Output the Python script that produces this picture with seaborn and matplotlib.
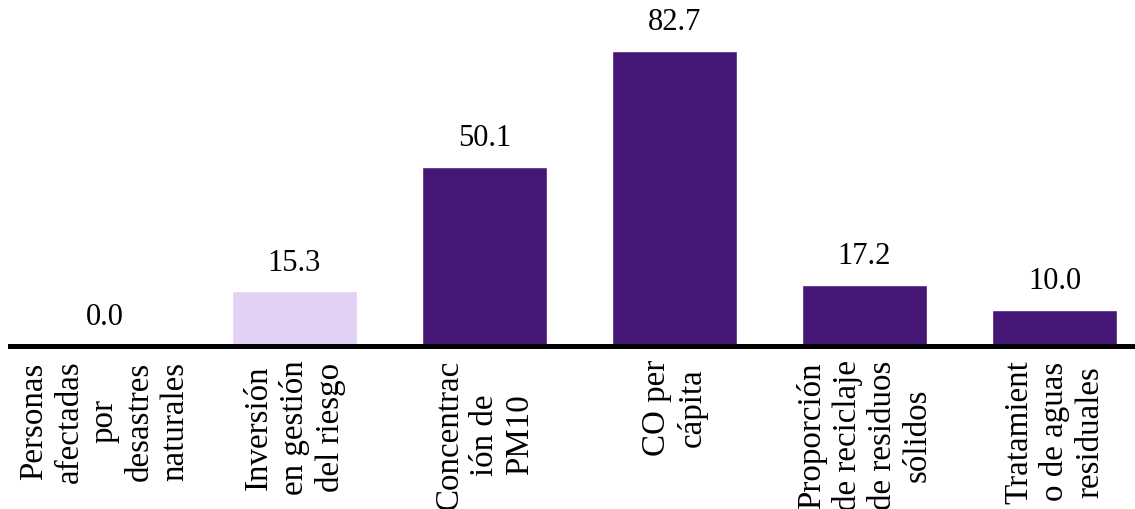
import matplotlib
matplotlib.use("Agg")
import matplotlib.pyplot as plt
import seaborn as sns
import pandas as pd

categories = [
    "Personas\nafectadas\npor\ndesastres\nnaturales",
    "Inversión\nen gestión\ndel riesgo",
    "Concentrac\nión de\nPM10",
    "CO per\ncápita",
    "Proporción\nde reciclaje\nde residuos\nsólidos",
    "Tratamient\no de aguas\nresiduales",
]
values = [0.0, 15.3, 50.1, 82.7, 17.2, 10.0]
bar_colors = ["#451777", "#E2D1F5", "#451777", "#451777", "#451777", "#451777"]

sns.set_theme(style="white")
plt.rcParams["font.family"] = ["Liberation Serif", "DejaVu Serif"]

df = pd.DataFrame({"cat": categories, "val": values})

fig = plt.figure(figsize=(11.35, 5.09), dpi=100)
ax = fig.add_axes([9.5 / 1135, (509 - 346) / 509, 1140 / 1135, 346 / 509])

sns.barplot(data=df, x="cat", y="val", hue="cat",
            palette=dict(zip(categories, bar_colors)),
            width=0.663, legend=False, ax=ax, saturation=1)

ax.set_xlim(-0.5, 5.5)
ax.set_ylim(0, 97)

for c in ax.containers:
    ax.bar_label(c, fmt="%.1f", padding=10, fontsize=22, color="black")

ax.set_xlabel("")
ax.set_ylabel("")
ax.set_yticks([])
ax.set_xticks(range(len(categories)))
ax.set_xticklabels(categories, rotation=90, ha="center", va="top",
                   multialignment="center", fontsize=23.8, color="black",
                   linespacing=1.2)
ax.tick_params(axis="x", length=0, pad=10)

for s in ["top", "left", "right"]:
    ax.spines[s].set_visible(False)
ax.spines["bottom"].set_color("black")
ax.spines["bottom"].set_linewidth(3.6)
ax.set_facecolor("white")
fig.patch.set_facecolor("white")

fig.savefig("out.png", dpi=100)
